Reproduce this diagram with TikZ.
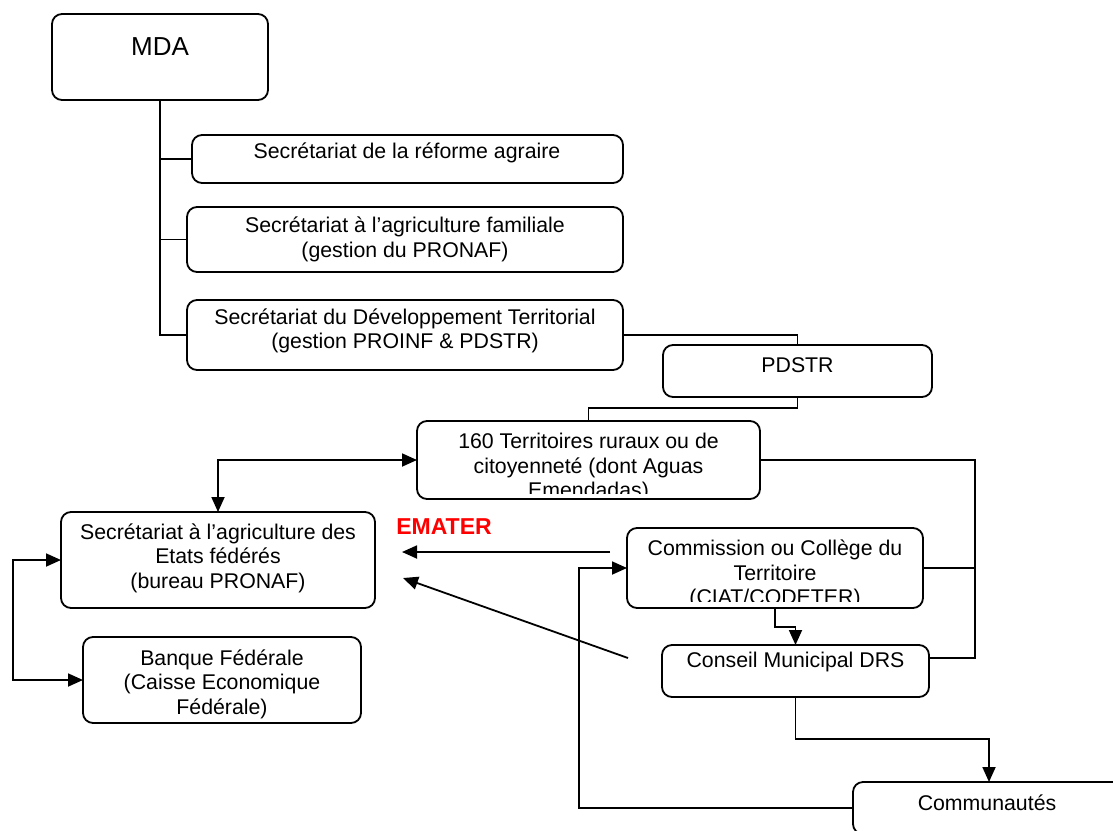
\documentclass[tikz,border=0pt]{standalone}
\usepackage{fontspec}
\setmainfont{Liberation Sans}
\usetikzlibrary{arrows.meta}
\definecolor{emred}{RGB}{255,0,0}
\begin{document}
\begin{tikzpicture}[x=1pt,y=-1pt,
  box/.style={draw,line width=1.8pt,rounded corners=10pt,inner sep=0pt,outer sep=0pt},
  txt/.style={inner sep=0pt,align=center,font=\fontsize{21.3}{24.5}\selectfont},
  conn/.style={line width=1.8pt},
  arr/.style={line width=1.8pt,-{Triangle[length=15pt,width=13pt]}},
  darr/.style={line width=1.8pt,{Triangle[length=15pt,width=13pt]}-{Triangle[length=15pt,width=13pt]}}]
\useasboundingbox (0,0) rectangle (1113,830);
% boxes
\node[box,minimum width=216pt,minimum height=86pt] (mda) at (160,57) {};
\node[box,minimum width=431pt,minimum height=48pt] (sra) at (407.5,159) {};
\node[box,minimum width=436pt,minimum height=65pt] (saf) at (405,239.5) {};
\node[box,minimum width=436pt,minimum height=70pt] (sdt) at (405,335) {};
\node[box,minimum width=269pt,minimum height=52pt] (pdstr) at (797.5,371) {};
\node[box,minimum width=343pt,minimum height=78pt] (ter) at (588.5,460) {};
\node[box,minimum width=314pt,minimum height=96pt] (etats) at (218,560) {};
\node[box,minimum width=278pt,minimum height=86pt] (banque) at (222,680) {};
\node[box,minimum width=296pt,minimum height=80pt] (comm) at (775,568) {};
\node[box,minimum width=267pt,minimum height=52pt] (conseil) at (795.5,671) {};
\node[box,minimum width=272pt,minimum height=52pt] (comu) at (989,808) {};
% texts
\node[txt,font=\fontsize{26}{30}\selectfont] (tmda) at (160,47) {MDA};
\node[txt] (tsra) at (407,153) {Secrétariat de la réforme agraire};
\node[txt] (tsaf) at (405,239.5) {Secrétariat à l’agriculture familiale\\(gestion du PRONAF)};
\node[txt] (tsdt) at (405,331) {Secrétariat du Développement Territorial\\(gestion PROINF \& PDSTR)};
\node[txt] (tpdstr) at (797.5,365) {PDSTR};
\begin{scope}
\clip (ter.north west) rectangle ([yshift=6pt]ter.south east);
\node[txt] (tter) at (588.5,467.5) {160 Territoires ruraux ou de\\citoyenneté (dont Aguas\\Emendadas)};
\end{scope}
\node[txt] (tetats) at (218,558) {Secrétariat à l’agriculture des\\Etats fédérés\\(bureau PRONAF)};
\node[txt] (tbanque) at (222,684) {Banque Fédérale\\(Caisse Economique\\Fédérale)};
\begin{scope}
\clip (comm.north west) rectangle ([yshift=7pt]comm.south east);
\node[txt] (tcomm) at (775,574.5) {Commission ou Collège du\\Territoire\\(CIAT/CODETER)};
\end{scope}
\node[txt] (tconseil) at (795.5,662) {Conseil Municipal DRS};
\node[txt] (tcomu) at (987,803) {Communautés};
\node[inner sep=0pt,text=emred,font=\fontsize{23}{26}\selectfont\bfseries] (emater) at (444,527) {EMATER};
% connectors
\draw[conn] (mda.south) |- (sdt.west);
\draw[conn] (mda.south |- sra.west) -- (sra.west);
\draw[conn] (mda.south |- saf.west) -- (saf.west);
\draw[conn] (sdt.east) -| (pdstr.north);
\draw[conn] (pdstr.south) -- ++(0,11) -| (ter.north);
\coordinate (rj) at (975,658);
\draw[conn] (ter.east) -| (rj) -- (rj -| conseil.east);
\draw[conn] (comm.east) -- (comm.east -| rj);
\draw[darr] (etats.north) |- (ter.west);
\coordinate (em1) at (610,552);
\coordinate (em2) at (402,552);
\draw[arr] (em1) -- (em2);
\coordinate (d1) at (628,658);
\coordinate (d2) at (403,578);
\draw[arr] (d1) -- (d2);
\draw[arr] (comm.south) -- ++(0,19) -| (conseil.north);
\draw[darr] (etats.west) -- ++(-48,0) |- (banque.west);
\draw[arr] (conseil.south) -- ++(0,42) -| (comu.north);
\draw[arr] (comu.west) -- ++(-274,0) |- (comm.west);
\end{tikzpicture}
\end{document}
